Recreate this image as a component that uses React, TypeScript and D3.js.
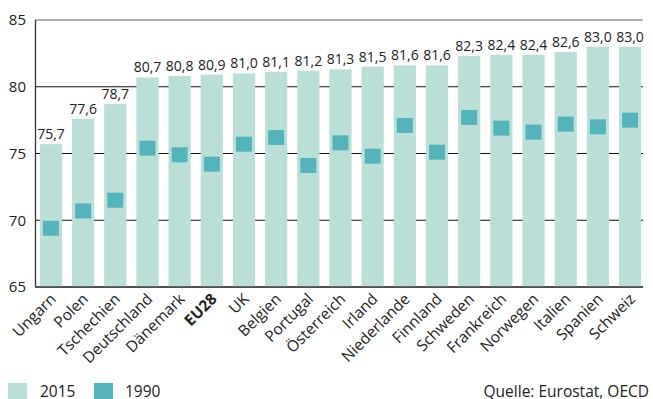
import * as d3 from "d3";

const countries = [
  "Ungarn", "Polen", "Tschechien", "Deutschland", "Dänemark", "EU28", "UK", "Belgien",
  "Portugal", "Österreich", "Irland", "Niederlande", "Finnland", "Schweden", "Frankreich",
  "Norwegen", "Italien", "Spanien", "Schweiz",
];
const values2015 = [75.7, 77.6, 78.7, 80.7, 80.8, 80.9, 81.0, 81.1, 81.2, 81.3, 81.5, 81.6, 81.6, 82.3, 82.4, 82.4, 82.6, 83.0, 83.0];
const values1990 = [69.4, 70.7, 71.5, 75.4, 74.9, 74.2, 75.7, 76.2, 74.1, 75.8, 74.8, 77.1, 75.1, 77.7, 76.9, 76.6, 77.2, 77.0, 77.5];
const yTicks = [65, 70, 75, 80, 85];

const W = 653;
const H = 399;
const FONT = "'Open Sans', sans-serif";
const C2015 = "#b9dfd8";
const C1990 = "#53b5bb";

export default function App() {
  const x = d3.scaleBand<string>().domain(countries).range([36, 645]).paddingInner(0.31).paddingOuter(0.12);
  const y = d3.scaleLinear().domain([65, 85]).range([287, 20]);
  const fmt = (v: number) => v.toFixed(1).replace(".", ",");
  const bw = x.bandwidth();
  const mk = 15;

  return (
    <div style={{ position: "absolute", left: 0, top: 0 }}>
      <svg width={W} height={H} style={{ display: "block", fontFamily: FONT }}>
        {yTicks.map((t) => (
          <g key={t}>
            <line x1={35.5} x2={643} y1={y(t)} y2={y(t)} stroke={t === 65 ? "#444" : t === 85 ? "#666" : "#111"} strokeWidth={t === 65 ? 1.6 : 1.2} />
            <text x={26} y={y(t)} dy="0.36em" textAnchor="end" fontSize={15} fill="#222">{t}</text>
          </g>
        ))}
        {countries.map((c, i) => (
          <rect key={c} x={x(c)} y={y(values2015[i])} width={bw} height={y(65) - y(values2015[i])} fill={C2015} />
        ))}
        <line x1={35.5} x2={35.5} y1={20} y2={287.5} stroke="#333" strokeWidth={1.3} />
        <line x1={35.5} x2={643} y1={287} y2={287} stroke="#444" strokeWidth={1.6} />
        {countries.map((c, i) => (
          <rect key={c} x={(x(c) ?? 0) + bw / 2 - mk / 2 - 0.5} y={y(values1990[i]) - mk / 2} width={mk + 1} height={mk} fill={C1990} />
        ))}
        {countries.map((c, i) => (
          <text key={c} x={(x(c) ?? 0) + bw / 2} y={y(values2015[i]) - 5} textAnchor="middle" fontSize={14} fill="#222">
            {fmt(values2015[i])}
          </text>
        ))}
        {countries.map((c) => (
          <text
            key={c}
            transform={`translate(${(x(c) ?? 0) + bw / 2 + 6},${300}) rotate(-45)`}
            textAnchor="end"
            fontSize={15.5}
            fontWeight={c === "EU28" ? 700 : 400}
            fill="#222"
          >
            {c}
          </text>
        ))}
        <rect x={8} y={383} width={19} height={16} fill={C2015} />
        <text x={40} y={397} fontSize={15.5} fill="#222">2015</text>
        <rect x={94} y={383} width={19} height={16} fill={C1990} />
        <text x={125} y={397} fontSize={15.5} fill="#222">1990</text>
        <text x={649} y={397} textAnchor="end" fontSize={15.5} fill="#222">Quelle: Eurostat, OECD</text>
      </svg>
    </div>
  );
}
